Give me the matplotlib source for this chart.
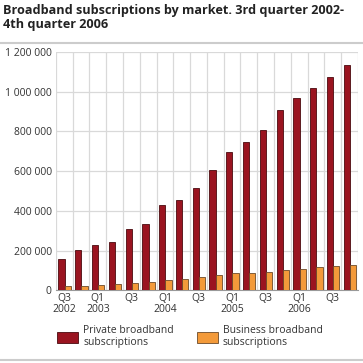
import numpy as np
import matplotlib
matplotlib.use("Agg")
import matplotlib.pyplot as plt
from matplotlib.patches import Rectangle
from matplotlib.lines import Line2D

quarters = ["Q3 2002", "Q4 2002", "Q1 2003", "Q2 2003", "Q3 2003", "Q4 2003",
            "Q1 2004", "Q2 2004", "Q3 2004", "Q4 2004", "Q1 2005", "Q2 2005",
            "Q3 2005", "Q4 2005", "Q1 2006", "Q2 2006", "Q3 2006", "Q4 2006"]
private = [156000, 202000, 227000, 244000, 308000, 336000, 429000, 454000, 517000,
           605000, 696000, 746000, 807000, 908000, 966000, 1018000, 1075000, 1136000]
business = [20000, 23000, 27000, 32000, 37000, 42000, 50000, 55000, 65000,
            77000, 86000, 86000, 91000, 101000, 106000, 116000, 121000, 128000]
tick_labels = ["Q3\n2002", "", "Q1\n2003", "", "Q3", "", "Q1\n2004", "", "Q3", "",
               "Q1\n2005", "", "Q3", "", "Q1\n2006", "", "Q3", ""]
yticks = [0, 200000, 400000, 600000, 800000, 1000000, 1200000]

RED = "#9a1420"
ORANGE = "#f39a3a"

plt.rcParams["font.family"] = ["Open Sans", "DejaVu Sans"]

fig = plt.figure(figsize=(3.63, 3.63), dpi=100)
ax = fig.add_axes([0.154, 0.2, 0.832, 0.657])

x = np.arange(len(quarters))
w = 0.37
ax.bar(x - w / 2 + 0.02, private, w, color=RED, edgecolor="#4a0a0e", linewidth=0.6, zorder=3)
ax.bar(x + w / 2 + 0.02, business, w, color=ORANGE, edgecolor="#6b4a2a", linewidth=0.6, zorder=3)

ax.set_xlim(-0.5, len(quarters) - 0.5)
ax.set_ylim(0, 1200000)
ax.set_yticks(yticks)
ax.set_yticklabels([f"{v:,}".replace(",", " ") for v in yticks], fontsize=7.5, color="#333333")
ax.set_xticks(x)
ax.set_xticklabels(tick_labels, fontsize=7.5, color="#333333", linespacing=0.95)
ax.set_xticks(np.arange(-0.5, len(quarters)), minor=True)
ax.tick_params(axis="both", which="both", length=0)
ax.tick_params(axis="x", pad=2)
ax.tick_params(axis="y", pad=3)

ax.grid(axis="y", color="#d9d9d9", linewidth=0.9, zorder=0)
ax.grid(axis="x", which="minor", color="#d9d9d9", linewidth=0.9, zorder=0)
ax.grid(axis="x", which="major", visible=False)
for s in ["top", "right", "left"]:
    ax.spines[s].set_visible(False)
ax.spines["bottom"].set_color("#999999")
ax.spines["bottom"].set_linewidth(0.8)

fig.text(0.008, 0.99, "Broadband subscriptions by market. 3rd quarter 2002-\n4th quarter 2006",
         fontsize=9.1, fontweight="bold", va="top", ha="left", color="#222222", linespacing=1.15)
fig.add_artist(Line2D([0, 1], [0.882, 0.882], color="#cccccc", linewidth=1.5))
fig.add_artist(Line2D([0, 1], [0.008, 0.008], color="#cccccc", linewidth=1.5))

fig.legend(handles=[Rectangle((0, 0), 1, 1, facecolor=RED, edgecolor="#4a0a0e", linewidth=0.6),
                    Rectangle((0, 0), 1, 1, facecolor=ORANGE, edgecolor="#6b4a2a", linewidth=0.6)],
           labels=["Private broadband\nsubscriptions", "Business broadband\nsubscriptions"],
           loc="upper left", bbox_to_anchor=(0.158, 0.105), ncol=2, frameon=False,
           fontsize=7.5, handlelength=2.0, handleheight=1.3, handletextpad=0.5,
           columnspacing=2.2, labelcolor="#333333", borderaxespad=0, borderpad=0)

fig.savefig("out.png", dpi=100)
